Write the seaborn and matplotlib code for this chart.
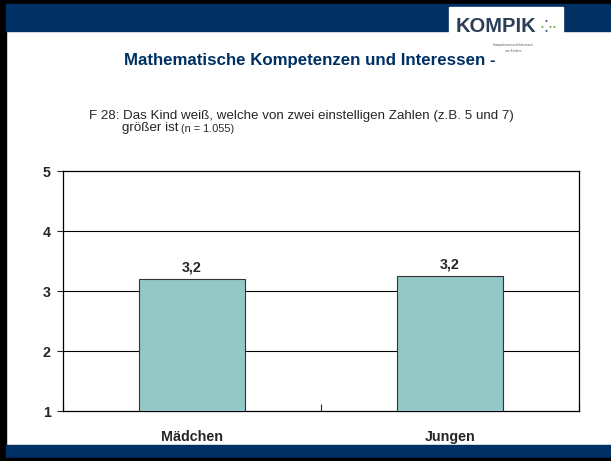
import matplotlib
matplotlib.use("Agg")
import matplotlib.pyplot as plt
import pandas as pd
import seaborn as sns
from matplotlib.patches import Rectangle

# data
groups = ["Mädchen", "Jungen"]
means = [3.2, 3.25]
value_labels = ["3,2", "3,2"]
y_ticks = [1, 2, 3, 4, 5]

navy = "#003063"
bar_color = "#93C8C6"

sns.set_style("white")
plt.rcParams["font.family"] = ["Liberation Sans", "DejaVu Sans"]

fig = plt.figure(figsize=(6.11, 4.61), dpi=100)
W, H = 611, 461


def box(x0, y0, w, h, color):
    # pixel coords, y counted from the top
    fig.patches.append(Rectangle((x0 / W, 1 - (y0 + h) / H), w / W, h / H,
                                 transform=fig.transFigure, color=color, zorder=0))


def ftext(x, y, s, **kw):
    fig.text(x / W, 1 - y / H, s, **kw)


# slide frame
box(0, 0, 611, 4, "black")
box(0, 0, 6, 461, "black")
box(6, 4, 605, 27, navy)
box(6, 445, 605, 13, navy)
box(0, 458, 611, 3, "black")

# logo
box(449, 7, 114, 50, "white")
ftext(496, 26, "KOMPIK", color="#2b3e57", fontsize=14.5, fontweight="bold",
      ha="center", va="center")
for dx, dy, c in [(0, -5, "#2f5d8a"), (4, 0, "#6bb04a"), (0, 5, "#2f5d8a"),
                  (-4, 0, "#6bb04a"), (8, 0, "#6bb04a")]:
    ftext(546 + dx, 26 + dy, "●", color=c, fontsize=3.5, ha="center", va="center")
ftext(513, 48, "Kompetenzen und Interessen\nvon Kindern", color="#555555",
      fontsize=2.2, ha="center", va="center", linespacing=1.6)

# headings
ftext(310, 60, "Mathematische Kompetenzen und Interessen -", color=navy,
      fontsize=12.2, fontweight="bold", ha="center", va="center")
ftext(89, 116, "F 28:", fontsize=9.6, ha="left", va="center")
ftext(123, 116, "Das Kind weiß, welche von zwei einstelligen Zahlen (z.B. 5 und 7)",
      fontsize=9.6, ha="left", va="center")
ftext(122, 128, "größer ist", fontsize=9.6, ha="left", va="center")
ftext(181, 128.5, "(n = 1.055)", fontsize=7.8, ha="left", va="center")

# chart
ax = fig.add_axes([63 / W, 1 - 411 / H, 516 / W, 240 / H])
df = pd.DataFrame({"Gruppe": groups, "Mittelwert": means})
sns.barplot(data=df, x="Gruppe", y="Mittelwert", color=bar_color, edgecolor="#333333",
            linewidth=0.8, width=0.41, saturation=1, ax=ax, zorder=3)

ax.set_ylim(1, 5)
ax.set_yticks(y_ticks)
ax.set_yticklabels([str(t) for t in y_ticks], fontweight="bold", fontsize=10.3)
ax.set_xticklabels(groups, fontweight="bold", fontsize=10.3)
ax.set_xlabel("")
ax.set_ylabel("")
for y in y_ticks[1:-1]:
    ax.axhline(y, color="black", linewidth=0.8, zorder=1)
for s in ax.spines.values():
    s.set_color("black")
    s.set_linewidth(0.9)
ax.tick_params(axis="y", left=True, length=4, width=0.8, pad=5)
ax.tick_params(axis="x", bottom=False, pad=10)
ax.set_xticks([-0.5, 0.5, 1.5], minor=True)
ax.tick_params(axis="x", which="minor", bottom=True, direction="in", length=5, width=0.8)
ax.set_xlim(-0.5, 1.5)

for i, (m, lab) in enumerate(zip(means, value_labels)):
    ax.text(i, m + 0.07, lab, ha="center", va="bottom", fontsize=10.3, fontweight="bold")

fig.savefig("out.png", dpi=100)
